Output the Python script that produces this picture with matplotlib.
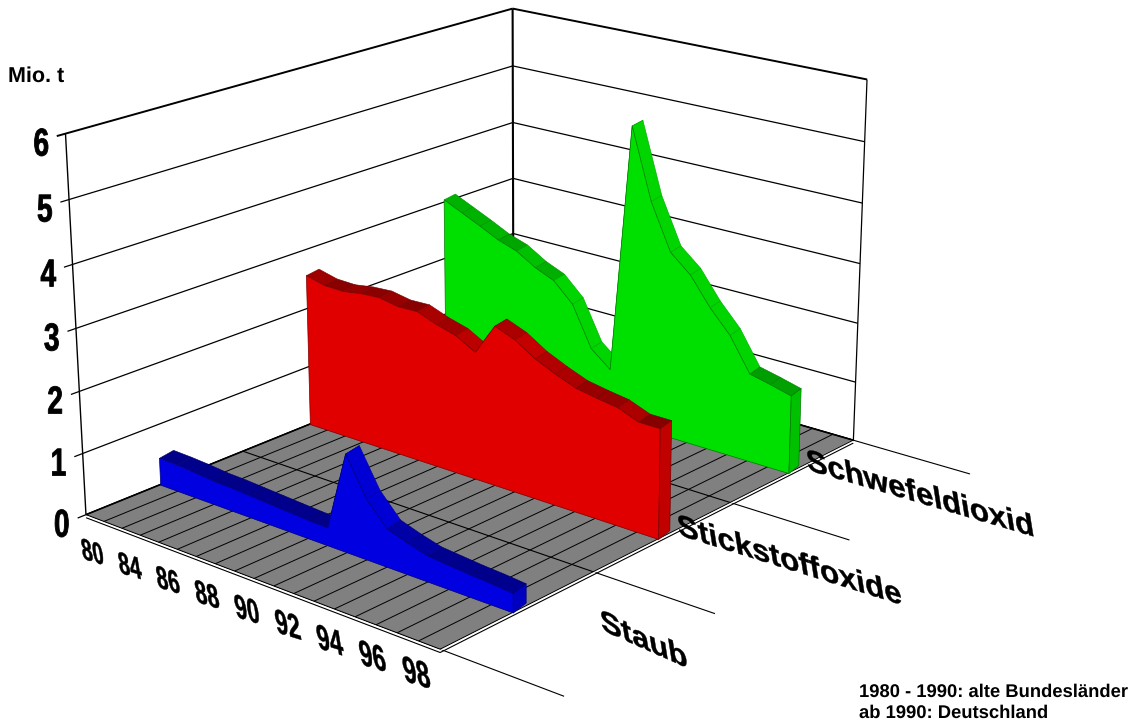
import numpy as np
import matplotlib
matplotlib.use('Agg')
import matplotlib.pyplot as plt
from matplotlib.patheffects import AbstractPathEffect
from matplotlib.transforms import Affine2D
from mpl_toolkits.mplot3d.art3d import Poly3DCollection, Line3DCollection

# emissions in Mio. t
years = list(range(1980, 1999))
staub = [0.45, 0.44, 0.42, 0.39, 0.38, 0.36, 0.34, 0.32, 0.30, 0.29, 1.57, 0.97, 0.61, 0.50, 0.41, 0.38, 0.35, 0.33, 0.30]
stickstoff = [2.57, 2.49, 2.48, 2.53, 2.55, 2.49, 2.50, 2.38, 2.29, 2.11, 2.63, 2.50, 2.29, 2.14, 2.01, 1.95, 1.90, 1.77, 1.77]
schwefel = [3.05, 2.90, 2.75, 2.59, 2.48, 2.28, 2.14, 1.82, 1.14, 0.87, 5.07, 3.90, 3.14, 2.85, 2.39, 2.02, 1.47, 1.39, 1.30]
year_labels = ['80', '84', '86', '88', '90', '92', '94', '96', '98']
z_ticks = [0, 1, 2, 3, 4, 5, 6]
series_names = ['Staub', 'Stickstoffoxide', 'Schwefeldioxid']

W, H = 1134, 726
x_max = len(years) - 1


def camera_matrix():
    # fit the camera of the picture from the corners of the box
    world = np.array([[0, 0, 0], [x_max, 0, 0], [x_max, 3, 0], [0, 3, 0], [0, 0, 6],
                      [0, 3, 6], [x_max, 3, 6], [0, 3, 3], [0, 0, 3]], float)
    pix = np.array([[86.7, 515], [440, 650], [853.5, 439], [513, 343], [65.3, 135],
                    [513, 8], [867, 80], [513, 178.3], [75.5, 326]], float)
    rows = []
    for (X, Y, Z), (u, v) in zip(world, pix):
        rows.append([X, Y, Z, 1, 0, 0, 0, 0, -u * X, -u * Y, -u * Z, -u])
        rows.append([0, 0, 0, 0, X, Y, Z, 1, -v * X, -v * Y, -v * Z, -v])
    return np.linalg.svd(np.array(rows))[2][-1].reshape(3, 4)


P = camera_matrix()
M = np.array([P[0], H * P[2] - P[1], [0, 1, 0, 0], P[2]])


def to_px(x, y, z):
    u, v, w = P @ [x, y, z, 1]
    return u / w, v / w


class Warp(AbstractPathEffect):
    # squeeze and shear the glyphs, the labels of the original lie in the 3d box
    def __init__(self, sx=1.0, shear=0.0, lean=0.0, stroke=0.0):
        self.sx = sx
        self.shear = shear
        self.lean = lean
        self.stroke = stroke

    def draw_path(self, renderer, gc, tpath, affine, rgbFace=None):
        warp = Affine2D().scale(self.sx, 1).skew_deg(self.lean, self.shear)
        gc0 = renderer.new_gc()
        gc0.copy_properties(gc)
        gc0.set_linewidth(self.stroke)
        gc0.set_foreground('black')
        renderer.draw_path(gc0, tpath, warp + affine, rgbFace)
        gc0.restore()


fig = plt.figure(figsize=(W / 100, H / 100), dpi=100)
ax = fig.add_axes([0, 0, 1, 1], projection='3d', computed_zorder=False)
ax.apply_aspect = lambda position=None: None
ax.get_proj = lambda: M
ax.set_axis_off()
ax.viewLim.intervalx = (0, W)
ax.viewLim.intervaly = (0, H)


def label(px, py, s, size, sx=1.0, shear=0.0, lean=0.0, stroke=0.0):
    t = ax.text2D(px, H - py, s, transform=ax.transData, fontsize=size, fontweight='bold',
                  family='Liberation Sans', ha='left', va='baseline', rotation_mode='anchor', color='black')
    t.set_path_effects([Warp(sx, shear, lean, stroke)])
    return t


def add_poly(verts, face, edge, z, lw=0.5):
    poly = Poly3DCollection([verts], facecolors=[face], edgecolors=[edge], linewidths=lw, zorder=z)
    ax.add_collection3d(poly, autolim=False)


def add_line(points, z, color='black', lw=0.9):
    ax.add_collection3d(Line3DCollection([points], colors=color, linewidths=lw, zorder=z), autolim=False)


# walls
for z in z_ticks:
    lw = 1.4 if z == 6 else 0.9
    add_line([(0, -0.05, z), (0, 3, z)], 1, lw=lw)
    add_line([(0, 3, z), (x_max, 3, z)], 1, lw=lw)
add_line([(0, 0, 0), (0, 0, 6)], 1, lw=1.0)
add_line([(0, 3, 0), (0, 3, 6)], 1, lw=1.5)
add_line([(x_max, 3, 0), (x_max, 3, 6)], 1)

# floor
add_poly([(0, 0, 0), (x_max, 0, 0), (x_max, 3, 0), (0, 3, 0)], '#808080', '#808080', 2)
for i in range(len(years)):
    add_line([(i, 0, 0), (i, 3, 0)], 3, lw=0.7)
for y in range(4):
    add_line([(0, y, 0), (x_max + 5.5, y, 0)], 3, lw=0.8)
add_line([(0, 0, -0.05), (x_max, 0, -0.05), (x_max, 3, -0.05)], 3, lw=0.8)
add_line([(0, 0, -0.02), (x_max, 0, -0.02), (x_max, 3, -0.02)], 3, color='white', lw=0.8)
add_line([(0, 0, 0), (0, 3, 0), (x_max, 3, 0)], 3, lw=1.2)

# series, back to front
front_off, back_off, back_shift = 0.46, 0.57, 0.18
series = [(2, schwefel, np.array([0, 224, 0]) / 255), (1, stickstoff, np.array([224, 0, 0]) / 255),
          (0, staub, np.array([0, 0, 224]) / 255)]
for slot, values, base in series:
    zo = 10 + 10 * (3 - slot)
    yf, yb = slot + front_off, slot + back_off
    for i in range(x_max):
        dz = abs(values[i + 1] - values[i])
        shade = min(0.95, 0.6 + 1.3 * dz)
        add_poly([(i, yf, values[i]), (i + 1, yf, values[i + 1]),
                  (i + 1 - back_shift, yb, values[i + 1]), (i - back_shift, yb, values[i])],
                 base * shade, base * shade * 0.8, zo, lw=0.4)
    outline = [(i, yf, v) for i, v in enumerate(values)] + [(x_max, yf, 0), (0, yf, 0)]
    add_poly(outline, base, base * 0.55, zo + 1)
    add_poly([(x_max, yf, 0), (x_max - back_shift, yb, 0), (x_max - back_shift, yb, values[-1]), (x_max, yf, values[-1])],
             base * 0.86, base * 0.55, zo + 2)

# y axis labels
for z in z_ticks:
    u, v = to_px(0, 0, z)
    label(u - 32, v + 22, str(z), 28, sx=0.72, stroke=0.6)

# year labels
for s, idx, size in zip(year_labels, np.linspace(0, 16.5, 9), np.linspace(22, 27, 9)):
    u, v = to_px(idx, 0, 0)
    label(u - 3, v + 44, s, size, sx=0.65, shear=-17, lean=-9, stroke=0.3)

# series labels
label(602, 630, series_names[0], 22.5, shear=-24, lean=-9, stroke=0.3)
label(679, 535, series_names[1], 22.5, shear=-17.4, lean=-9, stroke=0.3)
label(808, 470, series_names[2], 22.5, shear=-16.4, lean=-9, stroke=0.3)

label(8, 82, 'Mio. t', 15.5)
label(859, 697, '1980 - 1990: alte Bundesländer', 13.25)
label(859, 718, 'ab 1990: Deutschland', 13.25)

fig.savefig('out.png', dpi=100)
